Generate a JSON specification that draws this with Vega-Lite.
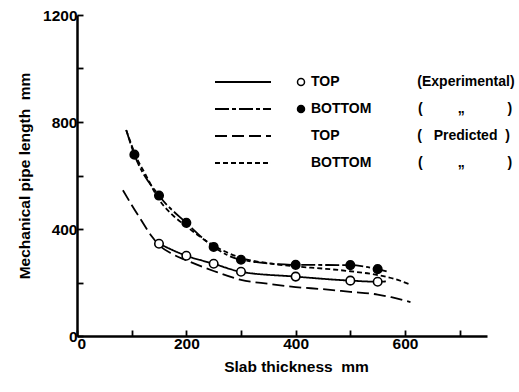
{
  "$schema": "https://vega.github.io/schema/vega-lite/v6.json",
  "width": 410,
  "height": 321,
  "autosize": {"type": "none"},
  "padding": {"left": 77, "top": 15, "right": 32, "bottom": 56},
  "background": "white",
  "config": {
    "view": {"stroke": null},
    "axis": {
      "grid": false,
      "domainColor": "black",
      "domainWidth": 2.5,
      "tickColor": "black",
      "tickWidth": 1.8,
      "tickSize": -6,
      "labelColor": "black",
      "labelFont": "Liberation Sans",
      "labelFontWeight": "bold",
      "labelFontSize": 15.5,
      "titleColor": "black",
      "titleFont": "Liberation Sans",
      "titleFontWeight": "bold",
      "titleFontSize": 15.5
    }
  },
  "datasets": {
    "curves": [
      {"series": "TOP experimental", "thickness": 150, "length": 345},
      {"series": "TOP experimental", "thickness": 200, "length": 300},
      {"series": "TOP experimental", "thickness": 250, "length": 270},
      {"series": "TOP experimental", "thickness": 300, "length": 240},
      {"series": "TOP experimental", "thickness": 400, "length": 222},
      {"series": "TOP experimental", "thickness": 500, "length": 207},
      {"series": "TOP experimental", "thickness": 550, "length": 203},
      {"series": "TOP experimental", "thickness": 565, "length": 204},
      {"series": "BOTTOM experimental", "thickness": 90, "length": 770},
      {"series": "BOTTOM experimental", "thickness": 105, "length": 678},
      {"series": "BOTTOM experimental", "thickness": 150, "length": 525},
      {"series": "BOTTOM experimental", "thickness": 200, "length": 423},
      {"series": "BOTTOM experimental", "thickness": 250, "length": 333},
      {"series": "BOTTOM experimental", "thickness": 300, "length": 285},
      {"series": "BOTTOM experimental", "thickness": 400, "length": 266},
      {"series": "BOTTOM experimental", "thickness": 500, "length": 265},
      {"series": "BOTTOM experimental", "thickness": 550, "length": 250},
      {"series": "BOTTOM experimental", "thickness": 570, "length": 240},
      {"series": "TOP predicted", "thickness": 84, "length": 545},
      {"series": "TOP predicted", "thickness": 100, "length": 490},
      {"series": "TOP predicted", "thickness": 115, "length": 441},
      {"series": "TOP predicted", "thickness": 137, "length": 372},
      {"series": "TOP predicted", "thickness": 150, "length": 340},
      {"series": "TOP predicted", "thickness": 175, "length": 306},
      {"series": "TOP predicted", "thickness": 200, "length": 283},
      {"series": "TOP predicted", "thickness": 250, "length": 243},
      {"series": "TOP predicted", "thickness": 300, "length": 210},
      {"series": "TOP predicted", "thickness": 350, "length": 195},
      {"series": "TOP predicted", "thickness": 400, "length": 183},
      {"series": "TOP predicted", "thickness": 450, "length": 175},
      {"series": "TOP predicted", "thickness": 500, "length": 165},
      {"series": "TOP predicted", "thickness": 550, "length": 155},
      {"series": "TOP predicted", "thickness": 575, "length": 145},
      {"series": "TOP predicted", "thickness": 610, "length": 127},
      {"series": "BOTTOM predicted", "thickness": 90, "length": 770},
      {"series": "BOTTOM predicted", "thickness": 110, "length": 662},
      {"series": "BOTTOM predicted", "thickness": 125, "length": 605},
      {"series": "BOTTOM predicted", "thickness": 150, "length": 510},
      {"series": "BOTTOM predicted", "thickness": 175, "length": 452},
      {"series": "BOTTOM predicted", "thickness": 200, "length": 410},
      {"series": "BOTTOM predicted", "thickness": 250, "length": 338},
      {"series": "BOTTOM predicted", "thickness": 300, "length": 292},
      {"series": "BOTTOM predicted", "thickness": 350, "length": 272},
      {"series": "BOTTOM predicted", "thickness": 400, "length": 260},
      {"series": "BOTTOM predicted", "thickness": 450, "length": 252},
      {"series": "BOTTOM predicted", "thickness": 500, "length": 242},
      {"series": "BOTTOM predicted", "thickness": 550, "length": 228},
      {"series": "BOTTOM predicted", "thickness": 580, "length": 214},
      {"series": "BOTTOM predicted", "thickness": 610, "length": 192}
    ],
    "points": [
      {"position": "TOP", "thickness": 150, "length": 345},
      {"position": "TOP", "thickness": 200, "length": 300},
      {"position": "TOP", "thickness": 250, "length": 270},
      {"position": "TOP", "thickness": 300, "length": 240},
      {"position": "TOP", "thickness": 400, "length": 222},
      {"position": "TOP", "thickness": 500, "length": 207},
      {"position": "TOP", "thickness": 550, "length": 203},
      {"position": "BOTTOM", "thickness": 105, "length": 678},
      {"position": "BOTTOM", "thickness": 150, "length": 525},
      {"position": "BOTTOM", "thickness": 200, "length": 423},
      {"position": "BOTTOM", "thickness": 250, "length": 333},
      {"position": "BOTTOM", "thickness": 300, "length": 285},
      {"position": "BOTTOM", "thickness": 400, "length": 266},
      {"position": "BOTTOM", "thickness": 500, "length": 265},
      {"position": "BOTTOM", "thickness": 550, "length": 250}
    ]
  },
  "layer": [
    {
      "data": {"name": "curves"},
      "mark": {"type": "line", "stroke": "black", "strokeWidth": 1.8, "interpolate": "monotone"},
      "encoding": {
        "x": {
          "field": "thickness",
          "type": "quantitative",
          "scale": {"domain": [0, 750], "nice": false, "zero": true},
          "axis": {
            "title": "Slab thickness\u00a0\u00a0mm",
            "values": [0, 100, 200, 300, 400, 500, 600, 700],
            "format": "d",
            "labelExpr": "datum.value % 200 == 0 ? datum.label : ''",
            "labelPadding": 6,
            "titlePadding": 8,
            "titleX": 219,
            "titleAlign": "center"
          }
        },
        "y": {
          "field": "length",
          "type": "quantitative",
          "scale": {"domain": [0, 1200], "nice": false},
          "axis": {
            "title": "Mechanical pipe length\u00a0\u00a0mm",
            "values": [0, 200, 400, 600, 800, 1000, 1200],
            "format": "d",
            "labelExpr": "datum.value % 400 == 0 ? datum.label : ''",
            "labelPadding": 6,
            "titlePadding": 10
          }
        },
        "strokeDash": {
          "field": "series",
          "type": "nominal",
          "scale": {
            "domain": ["TOP experimental", "BOTTOM experimental", "TOP predicted", "BOTTOM predicted"],
            "range": [[1, 0], [14, 3, 4, 3], [12, 5], [5, 3]]
          },
          "legend": {
            "orient": "none",
            "legendX": 159,
            "legendY": 60,
            "title": null,
            "padding": 0,
            "symbolType": "M-8,0H8",
            "symbolSize": 49,
            "symbolStrokeColor": "black",
            "symbolFillColor": "transparent",
            "symbolStrokeWidth": 1.8,
            "labelOffset": 61,
            "labelFont": "Liberation Sans",
            "labelFontWeight": "bold",
            "labelFontSize": 14,
            "labelColor": "black",
            "labelLimit": 400,
            "rowPadding": 13,
            "labelExpr": "datum.label == 'TOP experimental' ? 'TOP\u00a0\u00a0\u00a0\u00a0\u00a0\u00a0\u00a0\u00a0\u00a0\u00a0\u00a0\u00a0\u00a0\u00a0\u00a0\u00a0\u00a0\u00a0\u00a0\u00a0(Experimental)' : datum.label == 'BOTTOM experimental' ? 'BOTTOM\u00a0\u00a0\u00a0\u00a0\u00a0\u00a0\u00a0\u00a0\u00a0\u00a0\u00a0\u00a0(\u00a0\u00a0\u00a0\u00a0\u00a0\u00a0\u00a0\u00a0\u00a0\u201e\u00a0\u00a0\u00a0\u00a0\u00a0\u00a0\u00a0\u00a0\u00a0\u00a0\u00a0)' : datum.label == 'TOP predicted' ? 'TOP\u00a0\u00a0\u00a0\u00a0\u00a0\u00a0\u00a0\u00a0\u00a0\u00a0\u00a0\u00a0\u00a0\u00a0\u00a0\u00a0\u00a0\u00a0\u00a0\u00a0(\u00a0\u00a0\u00a0Predicted\u00a0\u00a0)' : 'BOTTOM\u00a0\u00a0\u00a0\u00a0\u00a0\u00a0\u00a0\u00a0\u00a0\u00a0\u00a0\u00a0(\u00a0\u00a0\u00a0\u00a0\u00a0\u00a0\u00a0\u00a0\u00a0\u201e\u00a0\u00a0\u00a0\u00a0\u00a0\u00a0\u00a0\u00a0\u00a0\u00a0\u00a0)'"
          }
        }
      }
    },
    {
      "data": {"name": "points"},
      "mark": {"type": "point", "shape": "circle", "filled": true, "stroke": "black", "strokeWidth": 1.6, "size": 72, "opacity": 1},
      "encoding": {
        "x": {"field": "thickness", "type": "quantitative"},
        "y": {"field": "length", "type": "quantitative"},
        "fill": {
          "field": "position",
          "type": "nominal",
          "scale": {"domain": ["TOP", "BOTTOM"], "range": ["white", "black"]},
          "legend": {
            "orient": "none",
            "legendX": 217,
            "legendY": 60,
            "title": null,
            "padding": 0,
            "symbolType": "circle",
            "symbolSize": 49,
            "symbolStrokeColor": "black",
            "symbolStrokeWidth": 1.5,
            "labelExpr": "''",
            "labelFontSize": 14,
            "rowPadding": 13
          }
        }
      }
    }
  ]
}
